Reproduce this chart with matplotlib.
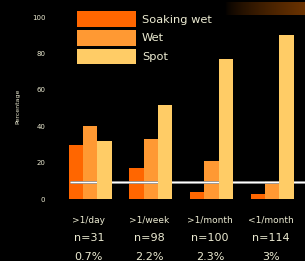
import numpy as np
import matplotlib
matplotlib.use('Agg')
import matplotlib.pyplot as plt

categories = ['>1/day', '>1/week', '>1/month', '<1/month']
n_labels = ['n=31', 'n=98', 'n=100', 'n=114']
pct_labels = ['0.7%', '2.2%', '2.3%', '3%']
soaking = [30, 17, 4, 3]
wet = [40, 33, 21, 10]
spot = [32, 52, 77, 90]
baseline = 9.3

txt = '#ecebd2'
colors = ['#ff6600', '#ff9933', '#ffcc66']

fig = plt.figure(figsize=(3.05, 2.61), dpi=100, facecolor='black')
ax = fig.add_axes([55/305, 1-199.3/261, 250/305, (199.3-17)/261])
ax.set_facecolor('black')

x = np.arange(len(categories))
w = 0.236
ax.bar(x - w, soaking, w, color=colors[0], label='Soaking wet', zorder=2)
ax.bar(x, wet, w, color=colors[1], label='Wet', zorder=2)
ax.bar(x + w, spot, w, color=colors[2], label='Spot', zorder=4)

# reference line (passes behind the spot bars)
ax.plot([-0.334, 3.6], [baseline, baseline], color='#808080', lw=2.0, zorder=3,
        solid_capstyle='butt')
ax.plot([-0.334, 3.6], [baseline, baseline], color='white', lw=1.0, zorder=3,
        solid_capstyle='butt')

ax.set_xlim(-0.58, -0.58 + 250/60.7)
ax.set_ylim(0, 100)
for s in ax.spines.values():
    s.set_visible(False)
ax.set_yticks([0, 20, 40, 60, 80, 100])
ax.tick_params(axis='y', length=0, pad=7, labelsize=5, labelcolor=txt)
ax.set_xticks([])

for i in range(len(categories)):
    ax.annotate(categories[i], (x[i], 0), xycoords=('data', 'axes fraction'),
                xytext=(-1, -15), textcoords='offset points', ha='center',
                va='center', fontsize=6.5, color=txt)
    ax.annotate(n_labels[i], (x[i], 0), xycoords=('data', 'axes fraction'),
                xytext=(-1, -28), textcoords='offset points', ha='center',
                va='center', fontsize=8, color=txt)
    ax.annotate(pct_labels[i], (x[i], 0), xycoords=('data', 'axes fraction'),
                xytext=(-1, -41.5), textcoords='offset points', ha='center',
                va='center', fontsize=8, color=txt)

fig.text(18/305, 1-106/261, 'Percentage', rotation=90, ha='center', va='center',
         fontsize=4.5, color=txt)

leg = fig.legend(loc='upper left', bbox_to_anchor=(77/305, 1-11/261),
                 frameon=False, fontsize=8.2, labelcolor=txt,
                 handlelength=5.2, handleheight=1.75, handletextpad=0.5,
                 labelspacing=0.27, borderpad=0, borderaxespad=0)

# decorative brown streak at top right
gax = fig.add_axes([225/305, 1-15/261, 80/305, 13/261])
grad = np.linspace(0, 1, 200)[None, :] ** 0.7
rgba = np.zeros((1, 200, 4))
rgba[..., 0] = 0.42
rgba[..., 1] = 0.2
rgba[..., 2] = 0.0
rgba[..., 3] = grad
gax.imshow(rgba, aspect='auto')
gax.axis('off')

fig.savefig('out.png', dpi=100, facecolor='black')
